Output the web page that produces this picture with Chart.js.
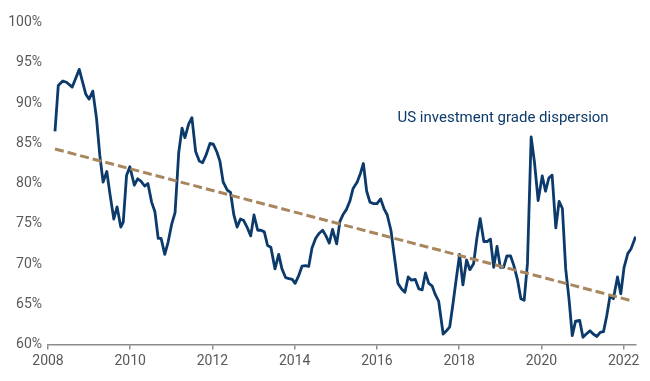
<!DOCTYPE html>
<html>
<head>
<meta charset="utf-8">
<script src="https://cdn.jsdelivr.net/npm/chart.js@4.4.1/dist/chart.umd.min.js"></script>
<style>
  html, body { margin: 0; padding: 0; background: #fff; }
  #wrap { width: 650px; height: 381px; }
</style>
</head>
<body>
<div id="wrap"><canvas id="chart"></canvas></div>
<script>
/* US investment grade dispersion, monthly */
const years = [
  2008.17, 2008.25, 2008.36, 2008.45, 2008.59, 2008.76, 2008.92, 2009.00, 2009.09, 2009.18,
  2009.26, 2009.34, 2009.43, 2009.51, 2009.60, 2009.68, 2009.77, 2009.83, 2009.91, 2009.99,
  2010.10, 2010.18, 2010.26, 2010.35, 2010.43, 2010.52, 2010.60, 2010.68, 2010.75, 2010.84,
  2010.92, 2011.01, 2011.09, 2011.18, 2011.26, 2011.33, 2011.42, 2011.50, 2011.59, 2011.68,
  2011.76, 2011.84, 2011.94, 2012.02, 2012.11, 2012.18, 2012.26, 2012.36, 2012.44, 2012.52,
  2012.60, 2012.68, 2012.76, 2012.84, 2012.93, 2013.01, 2013.10, 2013.18, 2013.26, 2013.34,
  2013.42, 2013.52, 2013.61, 2013.69, 2013.78, 2013.86, 2013.94, 2014.01, 2014.10, 2014.18,
  2014.26, 2014.34, 2014.42, 2014.51, 2014.59, 2014.68, 2014.76, 2014.84, 2014.92, 2015.02,
  2015.10, 2015.18, 2015.26, 2015.34, 2015.42, 2015.52, 2015.60, 2015.67, 2015.75, 2015.83,
  2015.92, 2016.00, 2016.09, 2016.17, 2016.25, 2016.34, 2016.42, 2016.51, 2016.60, 2016.68,
  2016.76, 2016.84, 2016.93, 2017.02, 2017.10, 2017.18, 2017.26, 2017.34, 2017.42, 2017.50,
  2017.61, 2017.69, 2017.77, 2017.85, 2017.93, 2018.01, 2018.09, 2018.18, 2018.26, 2018.35,
  2018.43, 2018.51, 2018.60, 2018.68, 2018.76, 2018.84, 2018.92, 2019.00, 2019.08, 2019.16,
  2019.25, 2019.33, 2019.42, 2019.50, 2019.58, 2019.66, 2019.75, 2019.83, 2019.92, 2020.02,
  2020.10, 2020.18, 2020.26, 2020.35, 2020.43, 2020.51, 2020.59, 2020.67, 2020.75, 2020.83,
  2020.93, 2021.01, 2021.09, 2021.18, 2021.26, 2021.35, 2021.43, 2021.51, 2021.59, 2021.67,
  2021.75, 2021.85, 2021.93, 2022.01, 2022.10, 2022.18, 2022.29
];
const dispersion = [
  86.5, 92.2, 92.75, 92.6, 92.0, 94.2, 91.1, 90.5, 91.5, 88.1,
  83.5, 80.2, 81.5, 78.6, 75.6, 77.1, 74.6, 75.2, 81.0, 82.1,
  79.8, 80.6, 80.3, 79.7, 80.0, 77.7, 76.5, 73.2, 73.2, 71.2,
  72.7, 75.0, 76.4, 83.9, 86.9, 85.7, 87.4, 88.2, 84.0, 82.8,
  82.6, 83.5, 85.0, 84.9, 83.9, 82.8, 80.2, 79.2, 78.9, 76.1,
  74.6, 75.6, 75.4, 74.6, 73.5, 76.1, 74.2, 74.2, 74.0, 72.3,
  72.1, 69.4, 71.2, 69.4, 68.3, 68.2, 68.1, 67.6, 68.6, 69.75,
  69.8, 69.7, 72.0, 73.2, 73.8, 74.2, 73.5, 72.6, 74.3, 72.5,
  75.3, 76.2, 76.8, 77.8, 79.4, 80.2, 81.3, 82.5, 79.05, 77.7,
  77.5, 77.5, 78.1, 76.9, 76.1, 74.2, 71.1, 67.6, 66.9, 66.5,
  68.4, 68.0, 68.1, 66.9, 66.8, 68.9, 67.6, 67.3, 66.2, 65.4,
  61.3, 61.7, 62.2, 65.1, 68.2, 71.2, 67.4, 70.5, 69.3, 70.05,
  73.2, 75.65, 72.8, 72.8, 73.1, 69.6, 72.2, 69.6, 69.6, 71.0,
  71.0, 69.8, 68.0, 65.7, 65.5, 70.05, 85.8, 82.7, 77.9, 80.95,
  79.05, 80.7, 81.05, 74.5, 77.8, 76.9, 69.4, 65.7, 61.1, 62.9,
  63.0, 60.9, 61.3, 61.7, 61.3, 61.0, 61.5, 61.6, 63.6, 66.1,
  65.7, 68.4, 66.3, 69.6, 71.3, 71.9, 73.4
];

/* linear trend, end points */
const trendYears = [2008.17, 2022.22];
const trendValues = [84.3, 65.4];

const xTicks = [2008, 2010, 2012, 2014, 2016, 2018, 2020, 2022];
const yTicks = [60, 65, 70, 75, 80, 85, 90, 95, 100];

const seriesLabel = "US investment grade dispersion";
const labelAt = [2016.5, 87.65];

const NAVY = "#0b3a6b";
const TAN = "#a8875f";
const AXIS = "#8c8c8c";
const TICK = "#595959";
const FONT = "Roboto";

const seriesLabelPlugin = {
    id: "seriesLabel",
    afterDatasetsDraw(chart) {
        const { ctx, scales: { x, y } } = chart;
        ctx.save();
        ctx.font = `15px ${FONT}`;
        ctx.fillStyle = NAVY;
        ctx.textAlign = "left";
        ctx.textBaseline = "alphabetic";
        ctx.fillText(seriesLabel, x.getPixelForValue(labelAt[0]), y.getPixelForValue(labelAt[1]));
        ctx.restore();
    }
};

new Chart(document.getElementById("chart"), {
    type: "line",
    data: {
        datasets: [
            {
                label: "Trend",
                data: trendYears.map((t, i) => ({ x: t, y: trendValues[i] })),
                borderColor: TAN, borderWidth: 3, borderDash: [9, 4],
                pointRadius: 0, tension: 0, fill: false
            },
            {
                label: seriesLabel,
                data: years.map((t, i) => ({ x: t, y: dispersion[i] })),
                borderColor: NAVY, borderWidth: 2.8, borderJoinStyle: "round",
                pointRadius: 0, tension: 0, fill: false
            }
        ]
    },
    options: {
        responsive: true, maintainAspectRatio: false,
        animation: false,
        layout: { padding: { top: 22.7, right: 14, left: 0, bottom: 0 } },
        plugins: { legend: { display: false }, tooltip: { enabled: false } },
        scales: {
            x: {
                type: "linear", min: 2008, max: 2022.3,
                afterBuildTicks: s => { s.ticks = xTicks.map(v => ({ value: v })); },
                afterFit: s => { s.height = 36.5; },
                ticks: {
                    color: TICK, padding: 4, maxRotation: 0, autoSkip: false,
                    font: { family: FONT, size: 14 },
                    callback: v => String(v)
                },
                grid: { display: true, drawOnChartArea: false, drawTicks: true, tickLength: 5, color: AXIS, lineWidth: 1.5 },
                border: { display: true, color: AXIS, width: 1.5 }
            },
            y: {
                min: 60, max: 100,
                afterBuildTicks: s => { s.ticks = yTicks.map(v => ({ value: v })); },
                afterFit: s => { s.width = 48; },
                ticks: {
                    color: TICK, padding: 6,
                    font: { family: FONT, size: 14 },
                    callback: v => v + "%"
                },
                grid: { display: false, drawTicks: false },
                border: { display: false }
            }
        }
    },
    plugins: [seriesLabelPlugin]
});
</script>
</body>
</html>
